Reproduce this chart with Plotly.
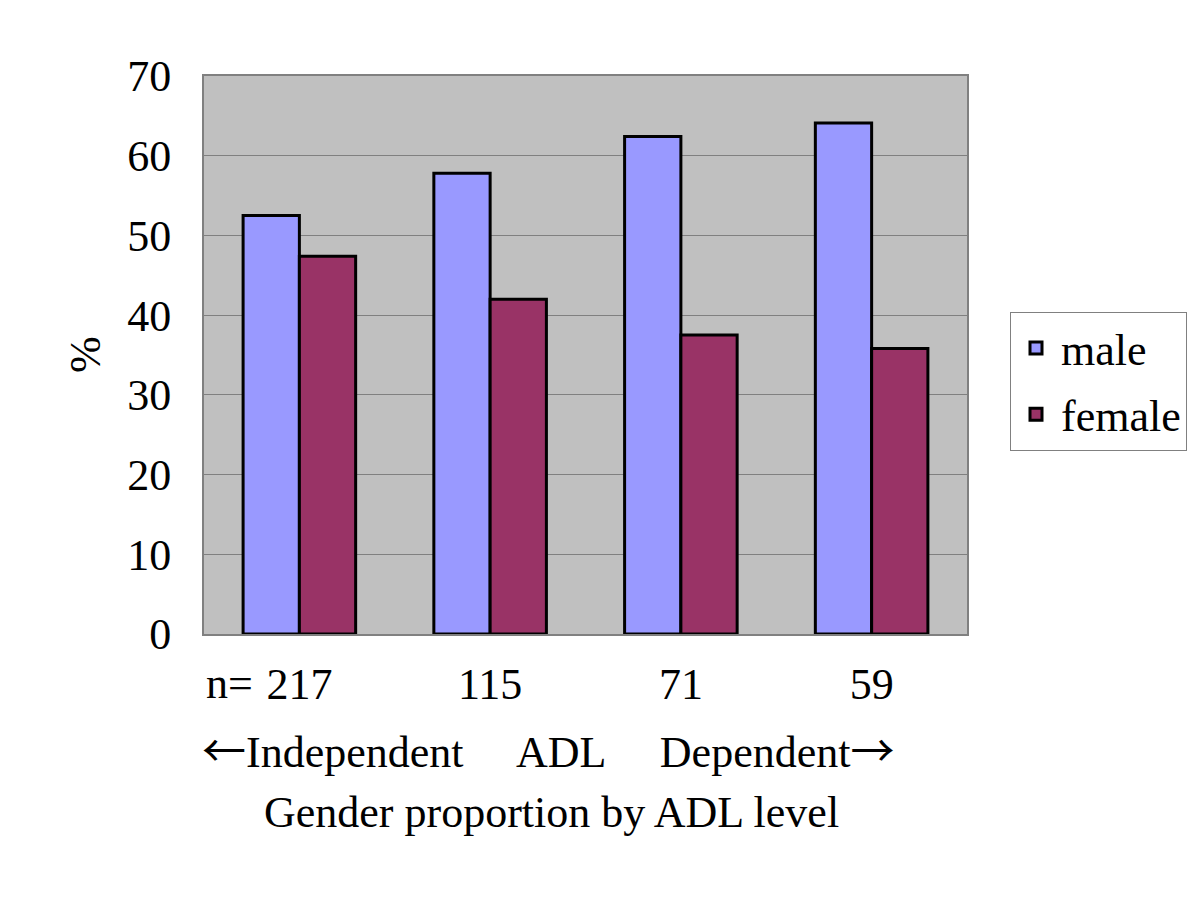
import plotly.graph_objects as go

categories = ["217", "115", "71", "59"]
male = [52.5, 57.8, 62.4, 64.1]
female = [47.4, 42.0, 37.5, 35.8]
series_names = ["male", "female"]
y_ticks = [0, 10, 20, 30, 40, 50, 60, 70]

FONT = "Liberation Serif, Times New Roman, serif"
FS = 44
ARROW = "<span style='font-family:Noto Sans CJK JP'>{}</span>"

fig = go.Figure()
fig.add_trace(go.Bar(x=categories, y=male, name=series_names[0], legendgroup="m",
                     marker=dict(color="#9999FF", line=dict(color="black", width=3))))
fig.add_trace(go.Bar(x=categories, y=female, name=series_names[1], legendgroup="f",
                     marker=dict(color="#993366", line=dict(color="black", width=3))))

fig.update_layout(
    width=1200, height=902,
    paper_bgcolor="white", plot_bgcolor="#C0C0C0",
    margin=dict(l=196, r=241, t=68, b=276, autoexpand=False),
    barmode="group", bargap=0.41, bargroupgap=0,
    font=dict(family=FONT, size=FS, color="black"),
    showlegend=True,
    legend=dict(x=(1010 - 204) / 763, y=(634 - 312) / 558, xanchor="left", yanchor="top",
                bordercolor="#808080", borderwidth=1, bgcolor="white",
                font=dict(family=FONT, size=FS), tracegroupgap=6,
                itemwidth=40),
    xaxis=dict(type="category", showline=True, linecolor="#808080", linewidth=2,
               mirror=True, ticks="", showgrid=False,
               tickfont=dict(family=FONT, size=FS), ticklabelstandoff=10),
    yaxis=dict(range=[0, 70], tickvals=y_ticks, showline=True, linecolor="#808080",
               linewidth=2, mirror=True, showgrid=True, gridcolor="#808080", gridwidth=1,
               ticks="inside", ticklen=6, tickcolor="#808080", zeroline=False,
               tickfont=dict(family=FONT, size=FS), ticklabelstandoff=22),
)

fig.add_annotation(text="n=", xref="paper", yref="paper", x=(204 - 204) / 763, y=(634 - 683) / 558,
                   xanchor="left", yanchor="middle", showarrow=False,
                   font=dict(family=FONT, size=FS))
fig.add_annotation(text=ARROW.format("←") + "Independent\u2003 ADL \u2003Dependent" + ARROW.format("→"),
                   xref="paper", yref="paper",
                   x=(548 - 204) / 763, y=(634 - 748) / 558, xanchor="center", yanchor="middle",
                   showarrow=False, font=dict(family=FONT, size=FS))
fig.add_annotation(text="Gender proportion by ADL level", xref="paper", yref="paper",
                   x=(551 - 204) / 763, y=(634 - 812) / 558, xanchor="center", yanchor="middle",
                   showarrow=False, font=dict(family=FONT, size=FS))
fig.add_annotation(text="%", xref="paper", yref="paper",
                   x=(85 - 204) / 763, y=(634 - 355) / 558, xanchor="center", yanchor="middle",
                   textangle=-90, showarrow=False, font=dict(family=FONT, size=FS))

fig.write_html("out.html")
